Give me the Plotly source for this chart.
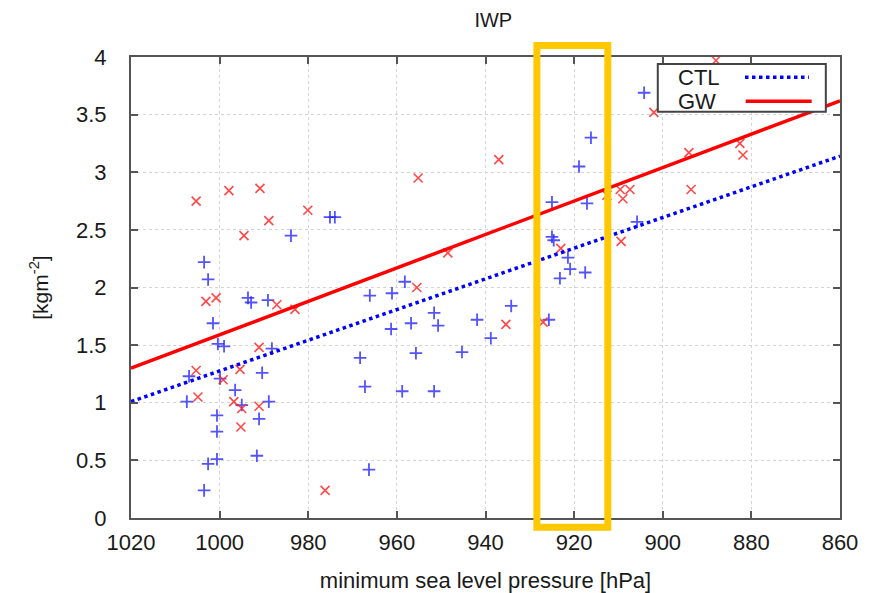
import plotly.graph_objects as go

# ---- data ----
ctl_pressure = [1003.5, 1002.6, 993.6, 992.9, 989.1, 1001.5, 1000.4, 999.0, 988.2, 1006.9,
                999.9, 990.4, 996.5, 1007.4, 995.0, 988.9, 1000.6, 991.1, 1000.6, 1000.6,
                1002.6, 991.6, 1003.5, 983.9, 975.1, 974.0,
                958.2, 966.1, 961.1, 951.6, 956.8, 961.3, 950.7, 941.9, 934.2, 938.8,
                968.3, 955.7, 945.3, 967.2, 958.8, 951.6, 966.3,
                904.2, 916.2, 918.9, 925.0, 917.1, 905.8, 925.0, 924.6, 921.4, 920.9,
                923.2, 917.5, 925.7]
ctl_iwp = [2.22, 2.07, 1.91, 1.87, 1.89, 1.69, 1.51, 1.49, 1.47, 1.23,
           1.21, 1.26, 1.11, 1.01, 0.98, 1.01, 0.89, 0.86, 0.75, 0.51,
           0.47, 0.54, 0.24, 2.45, 2.61, 2.61,
           2.05, 1.93, 1.95, 1.78, 1.69, 1.64, 1.67, 1.72, 1.84, 1.56,
           1.39, 1.43, 1.44, 1.14, 1.10, 1.10, 0.42,
           3.69, 3.30, 3.05, 2.74, 2.73, 2.57, 2.44, 2.41, 2.26, 2.16,
           2.08, 2.13, 1.72]

gw_pressure = [1005.3, 997.9, 990.9, 988.9, 980.1, 994.5, 1003.1, 1000.8, 987.1, 983.0,
               991.1, 1005.3, 995.4, 999.2, 1004.9, 996.8, 995.0, 991.1, 995.2, 976.2,
               955.2, 937.0, 948.5, 955.5, 935.4, 927.0, 923.0, 912.6, 909.6, 907.4,
               909.0, 909.4, 902.0, 888.0, 894.1, 893.6, 882.6, 881.9]
gw_iwp = [2.75, 2.84, 2.86, 2.58, 2.67, 2.45, 1.88, 1.91, 1.85, 1.81,
          1.48, 1.28, 1.29, 1.20, 1.05, 1.01, 0.95, 0.97, 0.79, 0.24,
          2.95, 3.11, 2.30, 2.00, 1.68, 1.70, 2.34, 2.80, 2.85, 2.85,
          2.77, 2.40, 3.52, 3.97, 3.17, 2.85, 3.25, 3.15]

fit_pressure = [1020, 860]
ctl_fit = [1.01, 3.14]
gw_fit = [1.30, 3.62]

x_ticks = [1020, 1000, 980, 960, 940, 920, 900, 880, 860]
y_ticks = [0, 0.5, 1, 1.5, 2, 2.5, 3, 3.5, 4]
y_tick_labels = ["0", "0.5", "1", "1.5", "2", "2.5", "3", "3.5", "4"]

FONT = "Liberation Sans, Arial, Helvetica, sans-serif"
TXT = "#1a1a1a"

fig = go.Figure()
fig.add_trace(go.Scatter(x=ctl_pressure, y=ctl_iwp, mode="markers", name="CTL pts",
                         marker=dict(symbol="cross-thin", size=9,
                                     line=dict(color="rgba(40,40,255,0.8)", width=1.8)),
                         showlegend=False, cliponaxis=False))
fig.add_trace(go.Scatter(x=gw_pressure, y=gw_iwp, mode="markers", name="GW pts",
                         marker=dict(symbol="x-thin", size=9,
                                     line=dict(color="rgba(255,40,40,0.85)", width=1.6)),
                         showlegend=False, cliponaxis=False))
fig.add_trace(go.Scatter(x=fit_pressure, y=ctl_fit, mode="lines", name="CTL",
                         line=dict(color="#0000ff", width=3.5, dash="dot"), showlegend=False))
fig.add_trace(go.Scatter(x=fit_pressure, y=gw_fit, mode="lines", name="GW",
                         line=dict(color="#ff0000", width=3.5), showlegend=False))

axis_common = dict(showline=True, linecolor="#555555", linewidth=2, mirror="ticks",
                   ticks="inside", ticklen=7, tickwidth=2, tickcolor="#555555",
                   showgrid=True, gridcolor="#d4d4d4", griddash="dot", gridwidth=1,
                   zeroline=False, tickfont=dict(family=FONT, size=22, color=TXT))

fig.update_xaxes(range=[1020, 860], tickvals=x_ticks, ticktext=[str(v) for v in x_ticks],
                 title=dict(text="minimum sea level pressure [hPa]",
                            font=dict(family=FONT, size=22, color=TXT), standoff=18),
                 ticklabelstandoff=4,
                 **axis_common)
fig.update_yaxes(range=[0, 4], tickvals=y_ticks, ticktext=y_tick_labels,
                 title=dict(text="[kgm<sup>-2</sup>]",
                            font=dict(family=FONT, size=21, color=TXT), standoff=22),
                 ticklabelstandoff=18,
                 **axis_common)

# custom legend (text left, sample right, as in the reference)
fig.add_shape(type="rect", xref="paper", yref="paper", x0=0.743, x1=0.980, y0=0.881, y1=0.985,
              fillcolor="white", line=dict(color="#444444", width=2), layer="above")
fig.add_shape(type="line", xref="paper", yref="paper", x0=0.866, x1=0.956, y0=0.956, y1=0.956,
              line=dict(color="#0000ff", width=3.5, dash="dot"), layer="above")
fig.add_shape(type="line", xref="paper", yref="paper", x0=0.867, x1=0.960, y0=0.904, y1=0.904,
              line=dict(color="#ff0000", width=3.5), layer="above")
fig.add_annotation(xref="paper", yref="paper", x=0.834, y=0.956, text="CTL", showarrow=False,
                   xanchor="right", yanchor="middle", font=dict(family=FONT, size=22, color=TXT))
fig.add_annotation(xref="paper", yref="paper", x=0.828, y=0.904, text="GW", showarrow=False,
                   xanchor="right", yanchor="middle", font=dict(family=FONT, size=22, color=TXT))

# highlight box
fig.add_shape(type="rect", xref="x domain", yref="y domain", x0=0.5725, x1=0.6725,
              y0=-0.02, y1=1.025, line=dict(color="#ffc800", width=7), layer="above")

fig.update_layout(
    width=880, height=593,
    margin=dict(l=123, r=48, t=49, b=83),
    paper_bgcolor="white", plot_bgcolor="white",
    title=dict(text="IWP", x=0.5515, xanchor="center", y=0.98, yanchor="middle",
               yref="container", font=dict(family=FONT, size=20, color=TXT)),
)

fig.write_html("out.html")
